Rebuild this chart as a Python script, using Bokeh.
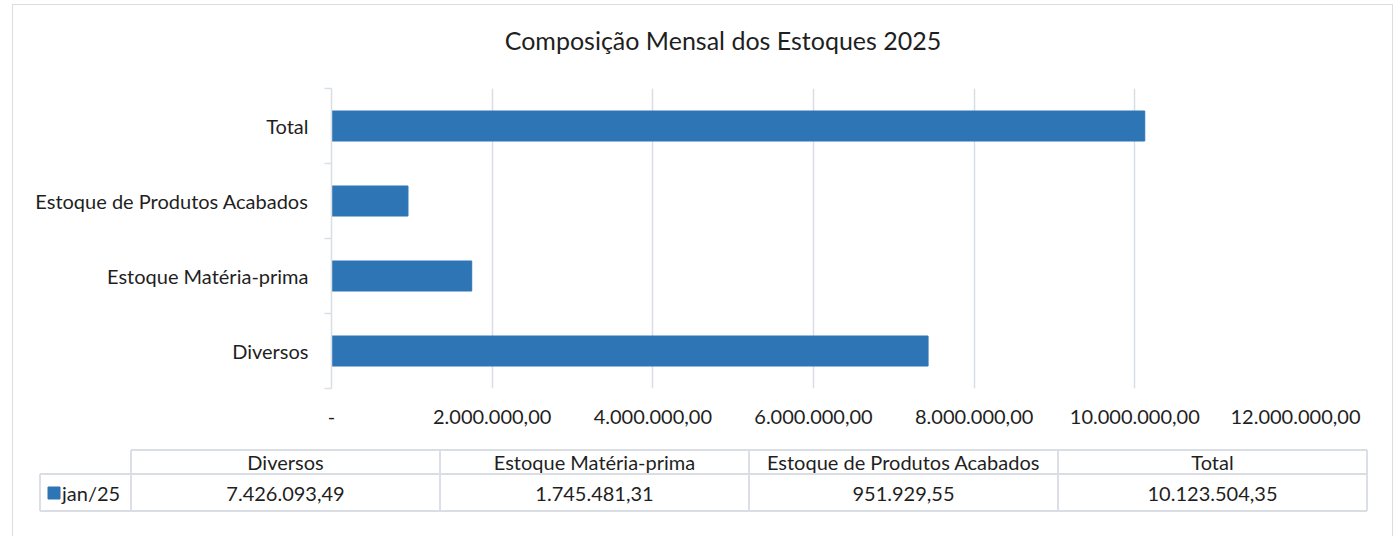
from bokeh.plotting import figure
from bokeh.models import Range1d, FixedTicker
from bokeh.layouts import column
from bokeh.embed import file_html
from bokeh.resources import INLINE
from bokeh.core.properties import value

# ---- data ----
categories = ["Diversos", "Estoque Matéria-prima", "Estoque de Produtos Acabados", "Total"]
values_jan25 = [7426093.49, 1745481.31, 951929.55, 10123504.35]
value_labels = ["7.426.093,49", "1.745.481,31", "951.929,55", "10.123.504,35"]
series_name = "jan/25"
x_ticks = [0, 2000000, 4000000, 6000000, 8000000, 10000000, 12000000]
x_tick_labels = ["-", "2.000.000,00", "4.000.000,00", "6.000.000,00",
                 "8.000.000,00", "10.000.000,00", "12.000.000,00"]
title_text = "Composição Mensal dos Estoques 2025"

FONT = "Lato"
BAR = "#2E75B6"
GRID = "#d9dde4"
TXT = "#1f1f1f"
FS = "20px"
W = 1379
OX, OY = 13.5, 5.5   # page offset of the canvas


def panel(height, top):
    f = figure(width=W, height=height, output_backend="svg", toolbar_location=None,
               x_range=Range1d(OX, OX + W), y_range=Range1d(top + height, top),
               x_axis_location=None, y_axis_location=None, min_border=0)
    f.outline_line_color = None
    f.grid.grid_line_color = None
    return f


# ---- title strip ----
HT = 50
tt = panel(HT, OY)
tt.text(x=[723], y=[40], text=[title_text], text_font=value(FONT),
        text_font_size="25px", text_color=TXT, text_align="center",
        text_baseline="middle")

# ---- chart ----
H1 = 375
n = len(categories)
ypos = [i + 0.5 for i in range(n)]

p = figure(width=W, height=H1, output_backend="svg", toolbar_location=None,
           x_range=Range1d(0, 12000000), y_range=Range1d(0, n),
           min_border_left=318, min_border_right=97, min_border_top=33,
           min_border_bottom=42)
p.outline_line_color = None
p.background_fill_color = "white"
p.border_fill_color = "white"

p.hbar(y=ypos, right=values_jan25, left=0, height=0.4, color=BAR)

xa = p.xaxis[0]
xa.ticker = FixedTicker(ticks=x_ticks)
xa.major_label_overrides = {t: l for t, l in zip(x_ticks, x_tick_labels)}
xa.axis_line_color = None
xa.major_tick_line_color = None
xa.minor_tick_line_color = None
xa.major_label_standoff = 15
xa.major_label_text_font = FONT
xa.major_label_text_font_size = FS
xa.major_label_text_color = TXT

ya = p.yaxis[0]
ya.ticker = FixedTicker(ticks=ypos, minor_ticks=list(range(n + 1)))
ya.major_label_overrides = {y: c for y, c in zip(ypos, categories)}
ya.axis_line_color = GRID
ya.axis_line_width = 1.5
ya.major_tick_line_color = None
ya.major_tick_in = 0
ya.major_tick_out = 0
ya.minor_tick_line_color = GRID
ya.minor_tick_line_width = 1.5
ya.minor_tick_in = 0
ya.minor_tick_out = 7
ya.major_label_standoff = 16
ya.major_label_text_font = FONT
ya.major_label_text_font_size = FS
ya.major_label_text_color = TXT

p.xgrid.grid_line_color = GRID
p.xgrid.grid_line_width = 1.5
p.ygrid.grid_line_color = None

# ---- data table below ----
H2 = 110
t = panel(H2, OY + HT + H1)

for fig in (tt, p, t):
    try:
        fig.frame_align = False
    except Exception:
        pass

key_left, col0, col_w = 40, 131, 309
row_top, row_mid, row_bot = 450, 474, 511
col_edges = [col0 + col_w * i for i in range(n + 1)]
right_edge = col_edges[-1]

x0 = [col0, key_left, key_left, key_left] + col_edges
x1 = [right_edge, right_edge, right_edge, key_left] + col_edges
y0 = [row_top, row_mid, row_bot, row_mid] + [row_top] * len(col_edges)
y1 = [row_top, row_mid, row_bot, row_bot] + [row_bot] * len(col_edges)
t.segment(x0=x0, y0=y0, x1=x1, y1=y1, line_color=GRID, line_width=1.8)

centers = [col0 + col_w * (i + 0.5) for i in range(n)]
t.text(x=centers, y=[(row_top + row_mid) / 2] * n, text=categories,
       text_font=value(FONT), text_font_size=FS, text_color=TXT,
       text_align="center", text_baseline="middle")
t.text(x=centers, y=[(row_mid + row_bot) / 2 + 1] * n, text=value_labels,
       text_font=value(FONT), text_font_size=FS, text_color=TXT,
       text_align="center", text_baseline="middle")
t.rect(x=[54], y=[493], width=12, height=12, color=BAR)
t.text(x=[62], y=[493], text=[series_name], text_font=value(FONT),
       text_font_size=FS, text_color=TXT, text_align="left", text_baseline="middle")

layout = column(tt, p, t, spacing=0,
                styles={"border": "1.5px solid #d9dde4", "margin-left": "12px",
                        "margin-top": "4px"})

open("out.html", "w").write(file_html(layout, INLINE))
